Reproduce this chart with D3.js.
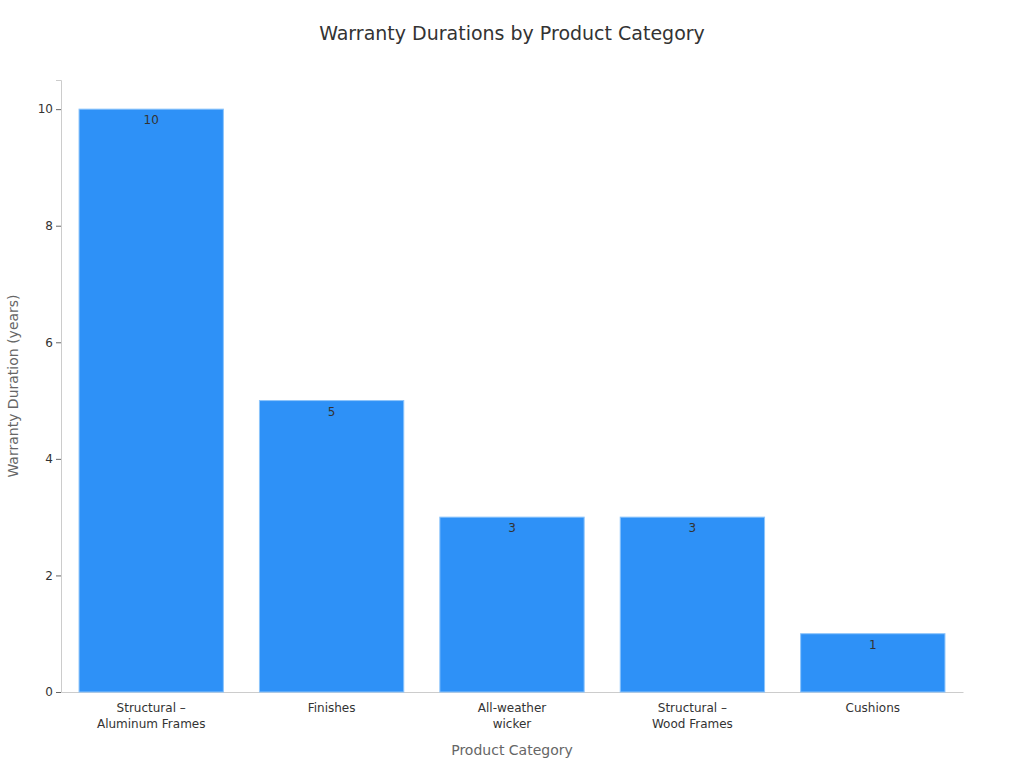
<!DOCTYPE html>
<html><head><meta charset="utf-8">
<script src="https://cdn.jsdelivr.net/npm/d3@7"></script>
<style>body{margin:0;background:#fff;font-family:"DejaVu Sans",sans-serif;}</style>
</head><body><svg id="c" width="1024" height="768"></svg>
<script>
const categories = [["Structural –","Aluminum Frames"],["Finishes"],["All-weather","wicker"],["Structural –","Wood Frames"],["Cushions"]];
const values = [10,5,3,3,1];
const yTicks = [0,2,4,6,8,10];

const svg = d3.select("#c");
const m = {l:61,r:963,t:80,b:692};
const x = d3.scaleBand().domain(d3.range(values.length)).range([m.l,m.r]).paddingInner(0.2).paddingOuter(0.1);
const y = d3.scaleLinear().domain([0,10.5]).range([m.b,m.t]);

svg.append("text").attr("x",512).attr("y",40).attr("text-anchor","middle")
  .attr("font-size",19).attr("fill","#333").text("Warranty Durations by Product Category");

const ya = svg.append("g").attr("transform",`translate(${m.l},0)`)
  .call(d3.axisLeft(y).tickValues(yTicks).tickSize(5).tickFormat(d3.format("d")));
ya.select(".domain").attr("stroke","#ccc");
ya.selectAll(".tick line").attr("stroke","#666");
ya.selectAll("text").attr("font-size",12).attr("fill","#333").attr("font-family","DejaVu Sans");

const xa = svg.append("g").attr("transform",`translate(0,${m.b})`)
  .call(d3.axisBottom(x).tickSize(0).tickFormat(""));
xa.select(".domain").attr("stroke","#ccc");
xa.selectAll(".tick").each(function(d){
  const t = d3.select(this).append("text").attr("fill","#333").attr("font-size",12)
    .attr("text-anchor","middle").attr("font-family","DejaVu Sans");
  categories[d].forEach((s,i)=>t.append("tspan").attr("x",0).attr("y",20+i*16).text(s));
});

svg.selectAll("rect.bar").data(values).join("rect").attr("class","bar")
  .attr("x",(d,i)=>x(i)).attr("width",x.bandwidth())
  .attr("y",d=>y(d)).attr("height",d=>y(0)-y(d))
  .attr("fill","#2e91f7").attr("stroke","#8cc4fb").attr("stroke-width",1);

svg.selectAll("text.lbl").data(values).join("text").attr("class","lbl")
  .attr("x",(d,i)=>x(i)+x.bandwidth()/2).attr("y",d=>y(d)+15)
  .attr("text-anchor","middle").attr("font-size",12).attr("fill","#333").text(d=>d);

svg.append("text").attr("x",512).attr("y",755).attr("text-anchor","middle")
  .attr("font-size",14).attr("fill","#666").text("Product Category");
svg.append("text").attr("transform","translate(18,386) rotate(-90)").attr("text-anchor","middle")
  .attr("font-size",14).attr("fill","#666").text("Warranty Duration (years)");
</script></body></html>
